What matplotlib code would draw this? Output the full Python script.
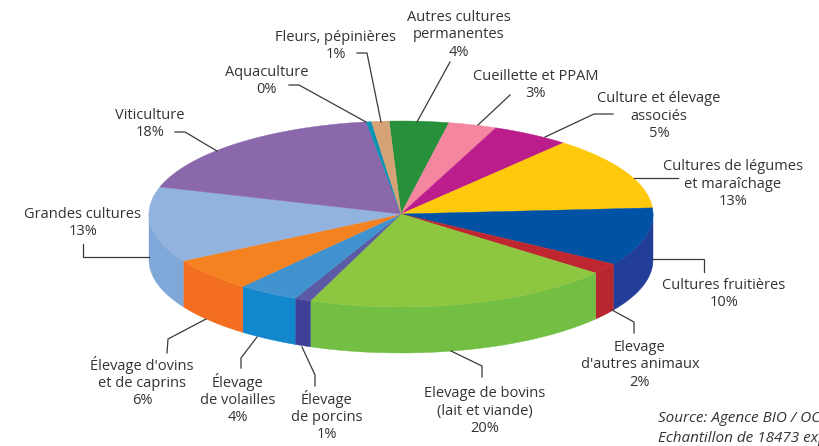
import matplotlib
matplotlib.use("Agg")
import matplotlib.pyplot as plt
import numpy as np

plt.rcParams['font.family'] = ['Open Sans', 'DejaVu Sans']

# slices clockwise, starting at the top of the pie
names = ["Autres cultures\npermanentes", "Cueillette et PPAM", "Culture et élevage\nassociés",
         "Cultures de légumes\net maraîchage", "Cultures fruitières", "Elevage\nd'autres animaux",
         "Elevage de bovins\n(lait et viande)", "Élevage\nde porcins", "Élevage\nde volailles",
         "Élevage d'ovins\net de caprins", "Grandes cultures", "Viticulture", "Aquaculture",
         "Fleurs, pépinières"]
shares = [3.8, 3.1, 5.0, 12.8, 10.1, 1.9, 19.9, 1.05, 3.9, 5.8, 13.1, 18.1, 0.33, 1.12]

top_colors = ["#26913A", "#F4869F", "#BB1D8C", "#FFC90B", "#0052A5", "#BE272F", "#8DC63F",
              "#5A5AA5", "#4193D0", "#F58220", "#92B3DD", "#8A68AB", "#0A93B4", "#D6A376"]
side_colors = ["#1F7A30", "#D0708A", "#9C1675", "#D9A900", "#233E99", "#B7282E", "#72BF44",
               "#3F3F98", "#1287CC", "#F36E21", "#7FA8D8", "#8A68AB", "#0A93B4", "#D6A376"]

# label centres (x, y of the whole block) in picture pixels
label_pos = [(459, 35), (536, 85), (659, 116), (733, 184), (724, 294), (640, 365),
             (485, 411), (327, 416), (238, 399), (142, 382), (83, 223), (150, 124),
             (267, 81), (336, 46)]
# leader lines, label end first
leaders = [[(450, 62), (417, 122)],
           [(510, 95), (478, 125)],
           [(613, 114), (594, 114), (545, 137)],
           [(678, 178), (634, 178)],
           [(704, 272), (704, 259), (652, 259)],
           [(634, 333), (634, 322), (612, 310)],
           [(482, 377), (482, 366), (451, 351)],
           [(315, 386), (315, 375), (302, 347)],
           [(241, 368), (241, 358), (257, 337)],
           [(167, 353), (168, 339), (206, 319)],
           [(83, 244), (83, 257), (149, 257)],
           [(175, 132), (185, 132), (217, 151)],
           [(289, 85), (299, 85), (366, 122)],
           [(357, 53), (367, 53), (381, 122)]]

cx, cy = 401, 214
rx, ry = 252, 93
depth = 46
start_angle = -2.7


def arc(a0, a1, dy=0):
    t = np.radians(np.linspace(a0, a1, max(2, int(abs(a1 - a0) * 2) + 2)))
    return cx + rx * np.sin(t), cy - ry * np.cos(t) + dy


fig = plt.figure(figsize=(8.2, 4.46), dpi=100)
ax = fig.add_axes([0, 0, 1, 1])
ax.set_xlim(0, 820)
ax.set_ylim(446, 0)
ax.axis('off')

edges = start_angle + np.cumsum([0] + shares) * 3.6

# side wall first, only the front half shows
for i in range(len(shares)):
    a0 = max(edges[i], 90)
    a1 = min(edges[i + 1], 270)
    if a1 <= a0:
        continue
    x, y = arc(a0, a1)
    x2, y2 = arc(a1, a0, depth)
    ax.fill(np.r_[x, x2], np.r_[y, y2], color=side_colors[i], lw=0.3, zorder=1)

for i in range(len(shares)):
    x, y = arc(edges[i], edges[i + 1])
    ax.fill(np.r_[cx, x], np.r_[cy, y], color=top_colors[i], lw=0.3, zorder=2)

for i in range(len(shares)):
    pts = np.array(leaders[i])
    ax.plot(pts[:, 0], pts[:, 1], color="#3a3a3a", lw=0.9, zorder=3, solid_joinstyle='miter')
    ax.text(label_pos[i][0], label_pos[i][1], names[i] + "\n" + str(round(shares[i])) + "%",
            ha='center', va='center', fontsize=10.5, color="#333333", linespacing=1.22, zorder=4)

# the source note runs off the right edge in the original too
ax.text(658, 419, "Source: Agence BIO / OC", style='italic', fontsize=11, color="#333333",
        va='center', ha='left')
ax.text(658, 438, "Echantillon de 18473 exploitations", style='italic', fontsize=11, color="#333333",
        va='center', ha='left')

fig.savefig("out.png", dpi=100)
